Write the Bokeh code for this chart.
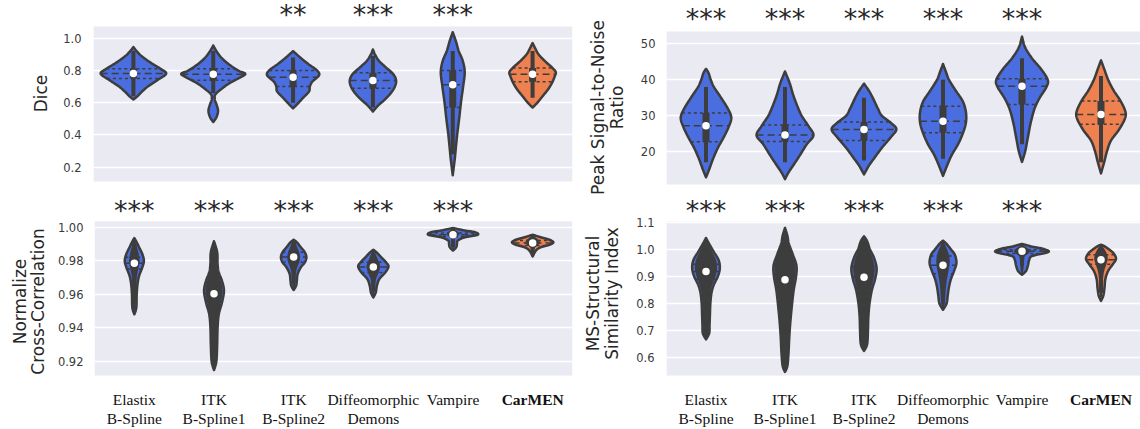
import numpy as np
from bokeh.plotting import figure
from bokeh.layouts import row, column
from bokeh.models import FixedTicker, Range1d
from bokeh.core.properties import value
from bokeh.embed import file_html
from bokeh.resources import INLINE

# ---------------- data ----------------
method_line1 = ["Elastix", "ITK", "ITK", "Diffeomorphic", "Vampire", "CarMEN"]
method_line2 = ["B-Spline", "B-Spline1", "B-Spline2", "Demons", "", ""]
highlight = [False, False, False, False, False, True]

# Dice: violin outline knots (value, half-width as fraction of a category slot)
dice_prof_y = [
    [0.62, 0.64, 0.67, 0.70, 0.74, 0.78, 0.81, 0.85, 0.89, 0.92, 0.945],
    [0.48, 0.51, 0.55, 0.59, 0.62, 0.65, 0.68, 0.72, 0.76, 0.78, 0.80, 0.84, 0.88, 0.92, 0.955],
    [0.565, 0.59, 0.63, 0.67, 0.70, 0.73, 0.77, 0.80, 0.84, 0.88, 0.92],
    [0.545, 0.58, 0.62, 0.66, 0.70, 0.74, 0.78, 0.82, 0.86, 0.90, 0.93],
    [0.15, 0.25, 0.30, 0.40, 0.50, 0.61, 0.70, 0.79, 0.86, 0.92, 0.98, 1.037],
    [0.57, 0.60, 0.64, 0.68, 0.72, 0.76, 0.79, 0.82, 0.86, 0.90, 0.94, 0.97],
]
dice_prof_w = [
    [0, .05, .11, .18, .30, .41, .34, .21, .10, .04, 0],
    [0, .04, .06, .04, .02, .025, .09, .20, .35, .40, .31, .19, .10, .04, 0],
    [0, .05, .125, .20, .21, .24, .325, .30, .19, .09, 0],
    [0, .06, .15, .225, .275, .29, .25, .16, .075, .025, 0],
    [0, .025, .035, .055, .08, .105, .13, .15, .125, .075, .04, 0],
    [0, .06, .125, .19, .24, .275, .29, .24, .15, .075, .03, 0],
]
dice_q1 = [0.75, 0.74, 0.70, 0.69, 0.57, 0.73]
dice_med = [0.781, 0.777, 0.758, 0.738, 0.711, 0.777]
dice_q3 = [0.81, 0.81, 0.80, 0.785, 0.80, 0.815]
dice_lo = [0.64, 0.66, 0.60, 0.57, 0.28, 0.63]
dice_hi = [0.92, 0.92, 0.88, 0.89, 0.92, 0.92]
dice_sig = ["", "", "**", "***", "***", ""]
dice_ticks = [0.2, 0.4, 0.6, 0.8, 1.0]
dice_tick_labels = ["0.2", "0.4", "0.6", "0.8", "1.0"]
dice_limits = (0.1113, 1.0726)

# PSNR
psnr_prof_y = [
    [12.8, 15, 18, 21, 24, 27, 29.5, 32, 35, 38, 40, 42, 43],
    [12.3, 14, 16, 19, 22, 24.5, 27, 30, 33, 36, 39, 42.3],
    [13.6, 16, 18, 21, 24, 26.2, 28, 30, 32, 35, 37, 38.9],
    [13.2, 16, 19, 22, 25, 28, 31, 34, 37, 40, 42, 44.4],
    [17.1, 20, 24, 28, 32, 35, 38, 40, 43, 46, 49, 52],
    [13.9, 17, 20, 23, 26, 29, 31, 34, 37, 40, 43, 45.4],
]
psnr_prof_w = [
    [0, .04, .09, .15, .225, .29, .32, .275, .19, .10, .06, .03, 0],
    [0, .04, .10, .19, .275, .36, .30, .21, .15, .10, .06, 0],
    [0, .06, .125, .225, .34, .41, .34, .225, .175, .11, .06, 0],
    [0, .05, .11, .19, .25, .29, .29, .25, .16, .075, .04, 0],
    [0, .04, .075, .11, .16, .225, .31, .325, .24, .125, .04, 0],
    [0, .04, .075, .125, .225, .30, .31, .25, .16, .09, .04, 0],
]
psnr_q1 = [22.7, 22.8, 23.1, 25.2, 33.1, 27.6]
psnr_med = [27.2, 24.6, 26.1, 28.4, 38.2, 30.3]
psnr_q3 = [30.7, 27.4, 28.2, 32.6, 40.3, 34.1]
psnr_lo = [17, 17, 17.5, 18, 22, 17]
psnr_hi = [38, 38, 35, 40, 46, 41]
psnr_sig = ["***", "***", "***", "***", "***", ""]
psnr_ticks = [20, 30, 40, 50]
psnr_tick_labels = ["20", "30", "40", "50"]
psnr_limits = (10.81, 53.43)

# Normalized cross-correlation
ncc_prof_y = [
    [0.948, 0.952, 0.960, 0.966, 0.971, 0.976, 0.980, 0.984, 0.988, 0.991, 0.9935],
    [0.9147, 0.92, 0.93, 0.94, 0.948, 0.955, 0.962, 0.968, 0.973, 0.978, 0.985, 0.9916],
    [0.9625, 0.965, 0.968, 0.972, 0.976, 0.979, 0.982, 0.985, 0.988, 0.991, 0.9925],
    [0.958, 0.961, 0.965, 0.969, 0.973, 0.9765, 0.979, 0.982, 0.985, 0.9865],
    [0.986, 0.988, 0.990, 0.992, 0.994, 0.9955, 0.997, 0.998, 0.999, 0.9995],
    [0.9825, 0.986, 0.988, 0.9895, 0.991, 0.9925, 0.994, 0.9955],
]
ncc_prof_w = [
    [0, .025, .03, .04, .06, .10, .12, .10, .06, .03, 0],
    [0, .03, .04, .045, .06, .10, .125, .10, .06, .045, .04, 0],
    [0, .03, .04, .05, .09, .14, .16, .14, .09, .04, 0],
    [0, .03, .045, .075, .15, .19, .16, .10, .04, 0],
    [0, .04, .05, .06, .15, .31, .275, .15, .05, 0],
    [0, .04, .10, .21, .26, .21, .10, 0],
]
ncc_q1 = [0.975, 0.952, 0.979, 0.973, 0.9945, 0.989]
ncc_med = [0.9785, 0.9603, 0.9822, 0.9762, 0.9955, 0.9905]
ncc_q3 = [0.982, 0.967, 0.985, 0.979, 0.9965, 0.992]
ncc_lo = [0.955, 0.925, 0.967, 0.962, 0.988, 0.985]
ncc_hi = [0.990, 0.988, 0.991, 0.985, 0.999, 0.995]
ncc_sig = ["***", "***", "***", "***", "***", ""]
ncc_ticks = [0.92, 0.94, 0.96, 0.98, 1.00]
ncc_tick_labels = ["0.92", "0.94", "0.96", "0.98", "1.00"]
ncc_limits = (0.91146, 1.0034)

# MS-SSIM
ssim_prof_y = [
    [0.668, 0.69, 0.72, 0.76, 0.80, 0.84, 0.87, 0.90, 0.93, 0.96, 0.99, 1.02, 1.042],
    [0.548, 0.57, 0.62, 0.68, 0.74, 0.80, 0.85, 0.90, 0.94, 0.98, 1.02, 1.05, 1.079],
    [0.625, 0.65, 0.70, 0.75, 0.80, 0.85, 0.89, 0.93, 0.97, 1.00, 1.03, 1.048],
    [0.777, 0.80, 0.83, 0.86, 0.89, 0.92, 0.95, 0.98, 1.00, 1.02, 1.032],
    [0.906, 0.92, 0.94, 0.96, 0.975, 0.985, 0.993, 1.003, 1.01, 1.017, 1.02],
    [0.81, 0.83, 0.86, 0.89, 0.92, 0.945, 0.965, 0.985, 1.00, 1.012, 1.017],
]
ssim_prof_w = [
    [0, .04, .045, .05, .055, .07, .10, .15, .175, .16, .10, .04, 0],
    [0, .03, .045, .055, .07, .09, .11, .14, .145, .10, .05, .03, 0],
    [0, .04, .05, .055, .07, .10, .14, .16, .125, .075, .04, 0],
    [0, .045, .06, .075, .10, .14, .17, .15, .10, .045, 0],
    [0, .05, .075, .09, .125, .275, .34, .25, .125, .04, 0],
    [0, .03, .045, .055, .09, .15, .19, .16, .10, .04, 0],
]
ssim_q1 = [0.89, 0.83, 0.86, 0.91, 0.985, 0.945]
ssim_med = [0.9185, 0.8877, 0.897, 0.941, 0.9926, 0.962]
ssim_q3 = [0.945, 0.94, 0.935, 0.975, 0.998, 0.98]
ssim_lo = [0.72, 0.64, 0.69, 0.82, 0.94, 0.84]
ssim_hi = [1.00, 1.02, 1.00, 1.01, 1.012, 1.005]
ssim_sig = ["***", "***", "***", "***", "***", ""]
ssim_ticks = [0.6, 0.7, 0.8, 0.9, 1.0, 1.1]
ssim_tick_labels = ["0.6", "0.7", "0.8", "0.9", "1.0", "1.1"]
ssim_limits = (0.5347, 1.1026)

# ---------------- style ----------------
BLUE = "#4a6ee0"
ORANGE = "#ef8050"
DARK = "#3d3d3d"
BG = "#eaeaf2"
SANS = "DejaVu Sans"
SERIF = "Liberation Serif"
# how much of each violin is covered by the dense dark strip of points
cover = {
    "dice": [0, 0, 0, 0, 0, 0],
    "psnr": [0, 0, 0, 0, 0, 0],
    "ncc": [0.55, 0.85, 0.5, 0.45, 0.25, 0.35],
    "ssim": [0.8, 0.9, 0.85, 0.5, 0.3, 0.45],
}
CX = [i + 0.5 for i in range(6)]


def smooth(vs, ws, n=10):
    pts = np.column_stack([vs, ws]).astype(float)
    P = np.vstack([pts[0], pts, pts[-1]])
    out = []
    for i in range(1, len(P) - 2):
        p0, p1, p2, p3 = P[i - 1], P[i], P[i + 1], P[i + 2]
        for t in np.linspace(0, 1, n, endpoint=False):
            t2, t3 = t * t, t * t * t
            out.append(0.5 * ((2 * p1) + (-p0 + p2) * t + (2 * p0 - 5 * p1 + 4 * p2 - p3) * t2
                              + (-p0 + 3 * p1 - 3 * p2 + p3) * t3))
    out.append(pts[-1])
    out = np.array(out)
    out[:, 1] = np.clip(out[:, 1], 0, None)
    return out[:, 0], out[:, 1]


def label_fig(width, height, lines):
    p = figure(width=width, height=height, x_range=Range1d(0, width), y_range=Range1d(height, 0),
               output_backend="svg", toolbar_location=None,
               min_border_left=0, min_border_right=0, min_border_top=0, min_border_bottom=0)
    p.axis.visible = False
    p.grid.visible = False
    p.outline_line_color = None
    p.background_fill_color = "white"
    p.border_fill_color = "white"
    p.text(x=[l[1] for l in lines], y=[l[2] for l in lines], text=[l[0] for l in lines],
           angle=np.pi / 2, text_align="center", text_baseline="middle",
           text_font=value(SANS), text_font_size="17px", text_color="#262626")
    return p


def make_panel(key, width, height, bl, br, gray_top, gray_bot, limits, ticks, tick_labels,
               prof_y, prof_w, q1, med, q3, lo, hi, sig, star_px, label_standoff, names):
    v_bot, v_top = limits
    scale = (gray_bot - gray_top) / (v_top - v_bot)          # pixels per unit
    y_end = v_top + gray_top / scale
    y_start = v_bot - (height - gray_bot) / scale

    def ydata(px):  # px measured from the top of this figure
        return y_end - px / scale

    p = figure(width=width, height=height, x_range=Range1d(0, 6),
               y_range=Range1d(y_start, y_end), output_backend="svg", toolbar_location=None,
               min_border_left=bl, min_border_right=br, min_border_top=0, min_border_bottom=0)
    p.background_fill_color = "white"
    p.border_fill_color = "white"
    p.outline_line_color = None
    p.xaxis.visible = False
    p.xgrid.visible = False
    p.ygrid.ticker = FixedTicker(ticks=ticks)
    p.ygrid.grid_line_color = "white"
    p.ygrid.grid_line_width = 1.3
    ax = p.yaxis[0]
    ax.ticker = FixedTicker(ticks=ticks)
    ax.major_label_overrides = {t: s for t, s in zip(ticks, tick_labels)}
    ax.axis_line_color = None
    ax.major_tick_line_color = None
    ax.minor_tick_line_color = None
    ax.major_tick_out = 0
    ax.major_label_standoff = label_standoff
    ax.major_label_text_font = SANS
    ax.major_label_text_font_size = "11.5px"
    ax.major_label_text_color = "#3a3a3a"

    # axes background (seaborn darkgrid)
    p.quad(left=0, right=6, bottom=v_bot, top=v_top, fill_color=BG, line_color=None,
           level="image")

    xs, ys, fills = [], [], []
    dxs, dys = [], []
    seg = {"x0": [], "x1": [], "y": [], "kind": []}
    for i in range(6):
        c = CX[i]
        sv, sw = smooth(prof_y[i], prof_w[i])
        xs.append(np.concatenate([c + sw, (c - sw)[::-1]]))
        ys.append(np.concatenate([sv, sv[::-1]]))
        fills.append(ORANGE if highlight[i] else BLUE)
        f = cover[key][i]
        if f > 0:
            dxs.append(np.concatenate([c + f * sw, (c - f * sw)[::-1]]))
            dys.append(np.concatenate([sv, sv[::-1]]))
        for q, kind in ((q1[i], "q"), (med[i], "m"), (q3[i], "q")):
            w = float(np.interp(q, sv, sw))
            seg["x0"].append(c - w)
            seg["x1"].append(c + w)
            seg["y"].append(q)
            seg["kind"].append(kind)

    p.patches(xs=xs, ys=ys, fill_color=fills, line_color=DARK, line_width=2.5,
              line_join="round")
    for kind, dash in (("q", "3 3"), ("m", "7 4")):
        idx = [j for j, k in enumerate(seg["kind"]) if k == kind]
        p.segment(x0=[seg["x0"][j] for j in idx], x1=[seg["x1"][j] for j in idx],
                  y0=[seg["y"][j] for j in idx], y1=[seg["y"][j] for j in idx],
                  line_color=DARK, line_width=1.5, line_dash=dash)
    if dxs:
        p.patches(xs=dxs, ys=dys, fill_color=DARK, line_color=None)
    p.segment(x0=CX, x1=CX, y0=lo, y1=hi, line_color=DARK, line_width=4)
    p.segment(x0=CX, x1=CX, y0=q1, y1=q3, line_color=DARK, line_width=7)
    p.scatter(x=CX, y=med, size=7.5, fill_color="white", line_color=None)

    # significance stars above each violin
    sx = [CX[i] for i, s in enumerate(sig) if s]
    st = [s for s in sig if s]
    p.text(x=sx, y=[ydata(star_px)] * len(sx), text=st, text_align="center",
           text_baseline="middle", text_font=value(SANS), text_font_size="27px",
           text_color="#262626")

    # method names under the bottom row
    if names:
        styles = ["bold" if h else "normal" for h in highlight]
        for lines, px in ((method_line1, gray_bot + 24), (method_line2, gray_bot + 43)):
            p.text(x=CX, y=[ydata(px)] * 6, text=lines, text_align="center",
                   text_baseline="middle", text_font=value(SERIF), text_font_size="15.5px",
                   text_color="#111111", text_font_style=styles)
    return p


tl_lab = label_fig(50, 195, [("Dice", 40, 93)])
tl = make_panel("dice", 525, 195, 43, 3, 26, 181, dice_limits, dice_ticks, dice_tick_labels,
                dice_prof_y, dice_prof_w, dice_q1, dice_med, dice_q3, dice_lo, dice_hi,
                dice_sig, 14, 12, False)

tr_lab = label_fig(55, 195, [("Peak Signal-to-Noise", 22, 107), ("Ratio", 41, 107)])
tr = make_panel("psnr", 510, 195, 36, 0, 31, 184, psnr_limits, psnr_ticks, psnr_tick_labels,
                psnr_prof_y, psnr_prof_w, psnr_q1, psnr_med, psnr_q3, psnr_lo, psnr_hi,
                psnr_sig, 18, 11, False)

bl_lab = label_fig(50, 234, [("Normalize", 19, 106), ("Cross-Correlation", 37.5, 106)])
bl = make_panel("ncc", 525, 234, 44, 3, 26, 180, ncc_limits, ncc_ticks, ncc_tick_labels,
                ncc_prof_y, ncc_prof_w, ncc_q1, ncc_med, ncc_q3, ncc_lo, ncc_hi,
                ncc_sig, 15, 11, True)

br_lab = label_fig(55, 234, [("MS-Structural", 17, 98), ("Similarity Index", 36, 98)])
br = make_panel("ssim", 510, 234, 36, 0, 26, 180, ssim_limits, ssim_ticks, ssim_tick_labels,
                ssim_prof_y, ssim_prof_w, ssim_q1, ssim_med, ssim_q3, ssim_lo, ssim_hi,
                ssim_sig, 15, 12, True)

layout = row(column(row(tl_lab, tl), row(bl_lab, bl)),
             column(row(tr_lab, tr), row(br_lab, br)))
open("out.html", "w").write(file_html(layout, INLINE))
